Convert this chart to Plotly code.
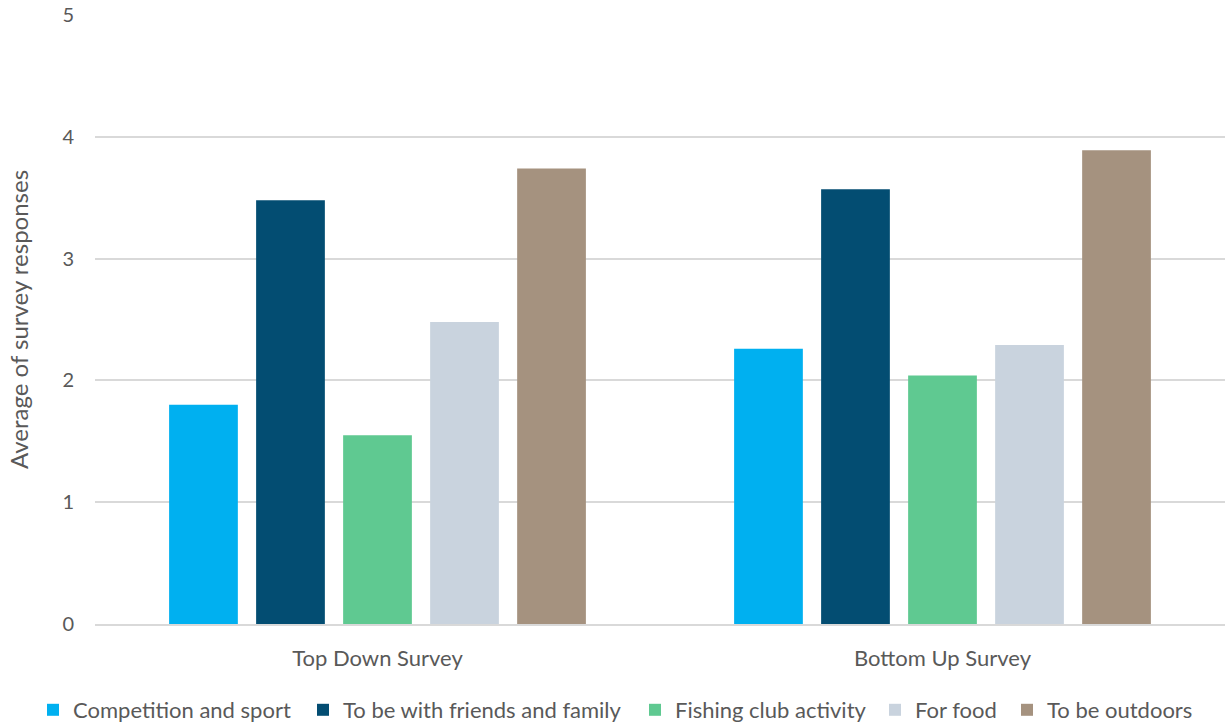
import plotly.graph_objects as go

categories = ["Top Down Survey", "Bottom Up Survey"]
series_names = [
    "Competition and sport",
    "To be with friends and family",
    "Fishing club activity",
    "For food",
    "To be outdoors",
]
competition = [1.80, 2.26]
friends_family = [3.48, 3.57]
fishing_club = [1.55, 2.04]
for_food = [2.48, 2.29]
outdoors = [3.74, 3.89]
y_ticks = [0, 1, 2, 3, 4, 5]

colors = ["#00B0F0", "#034D72", "#5FC991", "#C9D3DE", "#A5927F"]
values = [competition, friends_family, fishing_club, for_food, outdoors]

font_family = "Lato, 'Open Sans', sans-serif"
text_color = "#595959"
W, H = 1225, 725
M_L, M_R, M_T, M_B = 95, 0, 15, 101
plot_w = W - M_L - M_R
plot_h = H - M_T - M_B

# each legend entry gets its own legend box so the row can be spaced freely
legend_ids = ["legend", "legend2", "legend3", "legend4", "legend5"]
legend_left_px = [33, 303, 635, 875, 1007]
legend_mid_px = 710

fig = go.Figure()
for name, vals, col, lid in zip(series_names, values, colors, legend_ids):
    fig.add_trace(go.Bar(name=name, x=categories, y=vals, marker_color=col,
                         marker_line_width=0, legend=lid))

legend_layout = {}
for lid, px in zip(legend_ids, legend_left_px):
    legend_layout[lid] = dict(
        x=(px - M_L) / plot_w, xanchor="left",
        y=(H - M_B - legend_mid_px) / plot_h, yanchor="middle",
        font=dict(size=22, color=text_color), itemwidth=30,
        bgcolor="rgba(0,0,0,0)",
    )

fig.update_layout(
    width=W, height=H,
    margin=dict(l=M_L, r=M_R, t=M_T, b=M_B, autoexpand=False),
    paper_bgcolor="white", plot_bgcolor="white",
    barmode="group", bargap=0.23, bargroupgap=0.21,
    font=dict(family=font_family, size=19, color=text_color),
    showlegend=True,
    **legend_layout,
)
fig.update_yaxes(range=[0, 5], tickvals=y_ticks, showgrid=True,
                 gridcolor="#D9D9D9", gridwidth=2, zeroline=False,
                 showline=False, ticks="", ticklabelstandoff=20,
                 tickfont=dict(size=20),
                 title=dict(text="Average of survey responses", standoff=26,
                            font=dict(size=24, color=text_color)))
fig.update_xaxes(showline=True, linecolor="#D9D9D9", linewidth=2, ticks="",
                 ticklabelstandoff=14, tickfont=dict(size=22))

fig.write_html("out.html")
